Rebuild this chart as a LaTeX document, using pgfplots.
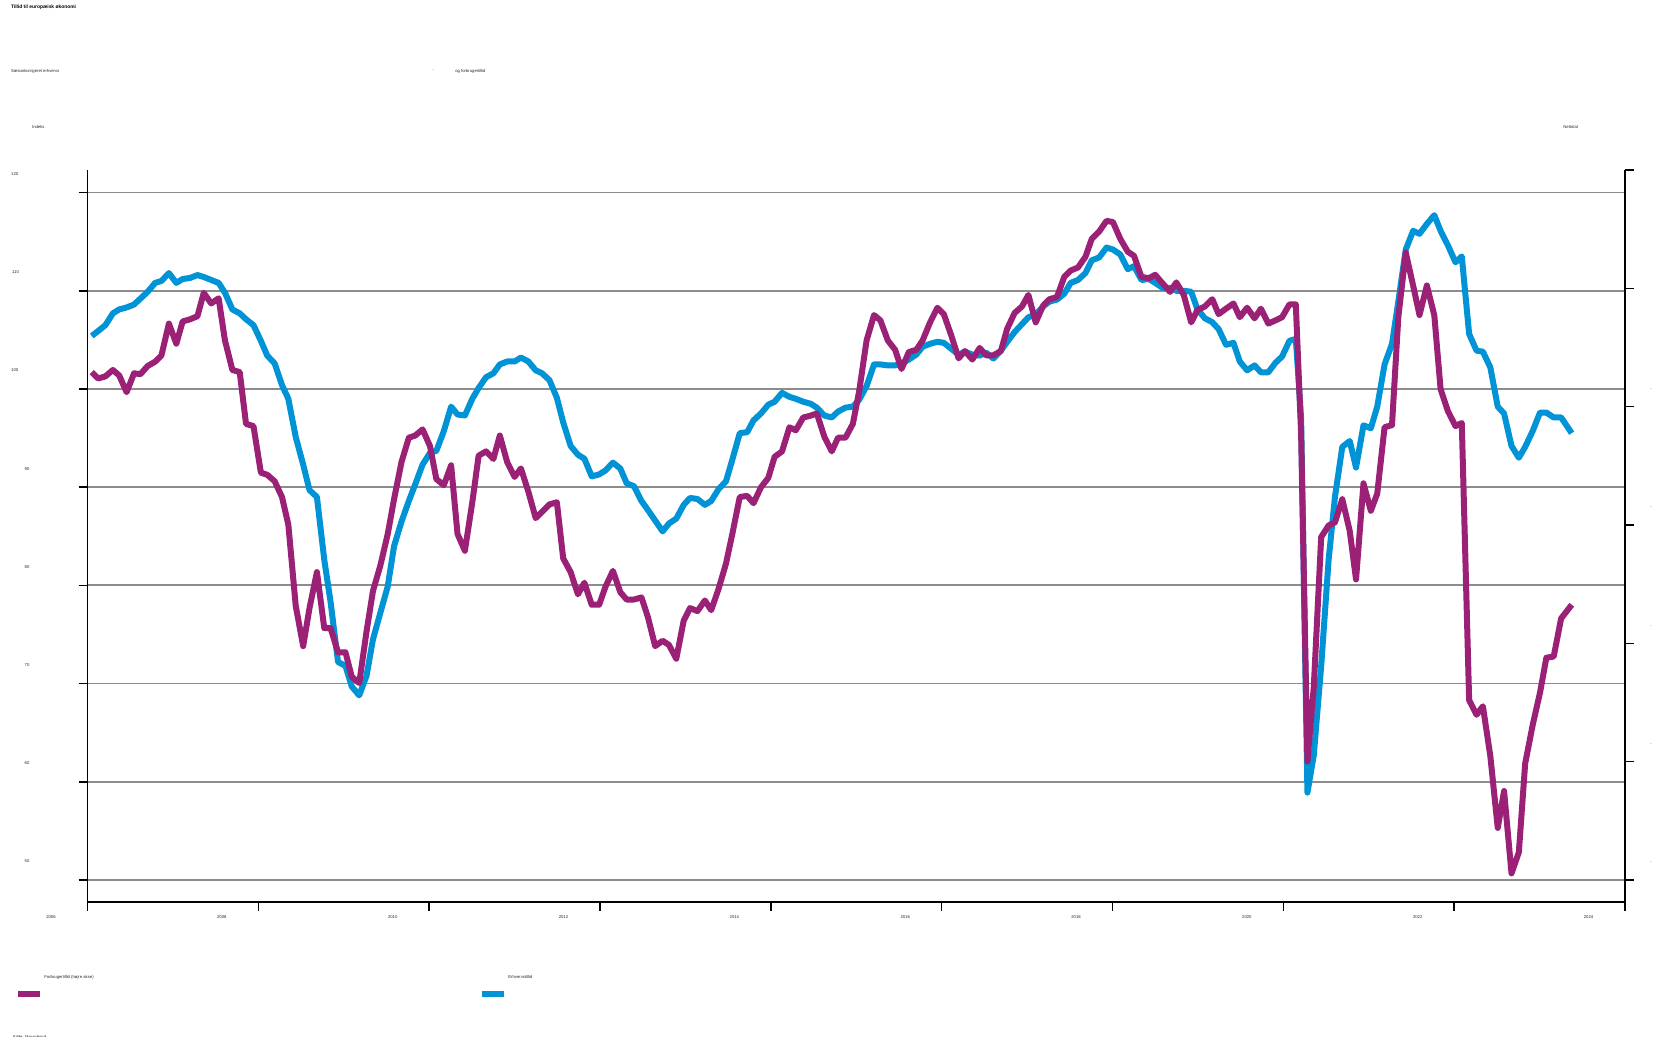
\documentclass[border=0pt]{standalone}
\usepackage{pgfplots}
\pgfplotsset{compat=1.18}
\usepackage{pgfplotstable}
\usepackage{fontspec}
\setmainfont{Liberation Sans}
\definecolor{fmag}{HTML}{9B2177}
\definecolor{eblue}{HTML}{0093D6}
\definecolor{gridg}{HTML}{8C8C8C}
\newcommand{\tinyf}{\fontsize{2.1pt}{2.5pt}\selectfont}
\newcommand{\rlab}[1]{\raisebox{8.1pt}[0pt][0pt]{-\hspace{5.3pt}#1}}

\pgfplotstableread{
t erh forb
2006.050 105.4 -8.54
2006.124 105.9 -8.81
2006.210 106.5 -8.72
2006.297 107.7 -8.45
2006.371 108.1 -8.68
2006.458 108.3 -9.39
2006.545 108.6 -8.59
2006.619 109.2 -8.63
2006.705 109.9 -8.28
2006.792 110.8 -8.10
2006.866 111.0 -7.83
2006.953 111.8 -6.49
2007.040 110.8 -7.34
2007.114 111.2 -6.40
2007.200 111.3 -6.31
2007.287 111.6 -6.18
2007.361 111.4 -5.19
2007.448 111.1 -5.64
2007.535 110.8 -5.42
2007.609 109.8 -7.20
2007.696 108.1 -8.45
2007.782 107.7 -8.54
2007.856 107.1 -10.73
2007.943 106.5 -10.82
2008.030 104.9 -12.79
2008.104 103.4 -12.88
2008.191 102.6 -13.15
2008.277 100.4 -13.82
2008.351 99.0 -14.98
2008.438 95.1 -18.42
2008.525 92.3 -20.12
2008.599 89.7 -18.51
2008.686 89.0 -16.99
2008.772 82.6 -19.36
2008.846 78.3 -19.36
2008.933 72.2 -20.38
2009.020 71.8 -20.38
2009.094 69.7 -21.41
2009.181 68.8 -21.68
2009.267 70.8 -19.49
2009.342 74.5 -17.79
2009.428 77.2 -16.72
2009.515 79.9 -15.38
2009.589 84.0 -13.91
2009.676 86.5 -12.34
2009.762 88.6 -11.31
2009.837 90.3 -11.22
2009.923 92.3 -10.96
2010.010 93.5 -11.67
2010.084 93.7 -13.06
2010.171 95.7 -13.32
2010.257 98.2 -12.48
2010.332 97.4 -15.38
2010.418 97.3 -16.09
2010.505 99.0 -14.04
2010.579 100.1 -12.07
2010.666 101.2 -11.89
2010.752 101.6 -12.21
2010.827 102.5 -11.22
2010.913 102.8 -12.34
2011.000 102.8 -12.97
2011.074 103.2 -12.61
2011.161 102.8 -13.59
2011.247 101.9 -14.71
2011.322 101.6 -14.44
2011.408 100.9 -14.13
2011.495 99.1 -14.04
2011.569 96.6 -16.41
2011.656 94.2 -16.99
2011.742 93.3 -17.93
2011.817 92.9 -17.44
2011.903 91.1 -18.37
2011.990 91.3 -18.37
2012.064 91.7 -17.61
2012.151 92.5 -16.94
2012.238 91.9 -17.84
2012.312 90.4 -18.15
2012.398 90.1 -18.15
2012.485 88.6 -18.06
2012.559 87.7 -18.87
2012.646 86.6 -20.12
2012.733 85.5 -19.89
2012.807 86.3 -20.07
2012.893 86.8 -20.65
2012.980 88.2 -19.04
2013.054 88.9 -18.51
2013.141 88.8 -18.64
2013.228 88.2 -18.19
2013.302 88.6 -18.60
2013.388 89.8 -17.70
2013.475 90.6 -16.63
2013.549 92.8 -15.38
2013.636 95.5 -13.82
2013.723 95.6 -13.77
2013.797 96.8 -14.08
2013.884 97.5 -13.41
2013.970 98.4 -13.01
2014.044 98.7 -12.12
2014.131 99.6 -11.89
2014.218 99.2 -10.87
2014.292 99.0 -11.00
2014.379 98.7 -10.46
2014.465 98.5 -10.38
2014.539 98.1 -10.29
2014.626 97.3 -11.27
2014.713 97.1 -11.89
2014.787 97.7 -11.31
2014.874 98.1 -11.31
2014.960 98.2 -10.73
2015.034 98.9 -9.35
2015.121 100.3 -7.20
2015.208 102.5 -6.13
2015.282 102.5 -6.35
2015.369 102.4 -7.20
2015.455 102.4 -7.60
2015.530 102.6 -8.41
2015.616 103.0 -7.69
2015.703 103.5 -7.60
2015.777 104.3 -7.20
2015.864 104.6 -6.44
2015.950 104.8 -5.82
2016.025 104.7 -6.09
2016.111 104.1 -6.98
2016.198 103.5 -7.96
2016.272 103.8 -7.65
2016.359 103.5 -8.01
2016.445 103.4 -7.52
2016.520 103.7 -7.83
2016.606 103.1 -7.83
2016.693 103.9 -7.65
2016.767 104.8 -6.71
2016.854 105.8 -6.04
2016.940 106.6 -5.77
2017.015 107.3 -5.28
2017.101 107.6 -6.44
2017.188 108.4 -5.73
2017.262 108.9 -5.46
2017.349 109.1 -5.37
2017.435 109.7 -4.52
2017.510 110.8 -4.25
2017.596 111.1 -4.12
2017.683 111.8 -3.67
2017.757 113.1 -2.91
2017.844 113.4 -2.60
2017.930 114.4 -2.15
2018.005 114.2 -2.20
2018.091 113.7 -2.91
2018.178 112.2 -3.45
2018.252 112.5 -3.63
2018.339 111.1 -4.52
2018.425 111.2 -4.57
2018.500 110.8 -4.43
2018.586 110.3 -4.79
2018.673 110.3 -5.15
2018.747 110.0 -4.75
2018.834 110.0 -5.28
2018.921 109.9 -6.44
2018.995 108.1 -5.91
2019.081 107.2 -5.77
2019.168 106.8 -5.46
2019.242 106.1 -6.09
2019.329 104.5 -5.86
2019.416 104.7 -5.64
2019.490 102.8 -6.22
2019.576 101.9 -5.82
2019.663 102.4 -6.27
2019.737 101.7 -5.86
2019.824 101.7 -6.49
2019.911 102.7 -6.35
2019.985 103.3 -6.22
2020.071 104.9 -5.68
2020.146 105.1 -5.68
2020.208 97.0 -11.14
2020.282 58.9 -24.99
2020.356 62.7 -21.86
2020.443 71.8 -15.51
2020.530 82.6 -15.02
2020.604 89.0 -14.89
2020.690 94.1 -13.91
2020.777 94.7 -15.25
2020.851 92.0 -17.30
2020.938 96.3 -13.24
2021.024 96.0 -14.40
2021.099 98.2 -13.68
2021.185 102.5 -10.87
2021.272 104.6 -10.78
2021.346 108.9 -6.22
2021.433 114.2 -3.49
2021.519 116.1 -4.88
2021.594 115.8 -6.13
2021.680 116.8 -4.88
2021.767 117.7 -6.13
2021.841 116.1 -9.26
2021.928 114.6 -10.20
2022.015 112.9 -10.82
2022.089 113.5 -10.69
2022.175 105.6 -22.40
2022.262 103.9 -23.02
2022.336 103.8 -22.66
2022.423 102.2 -24.76
2022.510 98.2 -27.80
2022.584 97.5 -26.24
2022.671 94.2 -29.72
2022.757 93.0 -28.83
2022.831 94.1 -25.08
2022.918 95.7 -23.47
2023.005 97.6 -22.08
2023.079 97.6 -20.61
2023.165 97.1 -20.56
2023.252 97.1 -18.95
2023.376 95.5 -18.37
}\data

\begin{document}
\begin{tikzpicture}
\useasboundingbox (0,0) rectangle (829pt,518.5pt);
\pgfplotsset{
  common/.style={
    at={(43.75pt,67.5pt)}, anchor=south west,
    scale only axis, width=768.75pt, height=366pt,
    xmin=2006, xmax=2024,
    tick align=outside, major tick length=4.5pt,
    tick style={black, line width=0.8pt},
    axis line style={black, line width=0.8pt},
    tick label style={font=\tinyf, text=black!85, inner sep=0pt},
  }
}
\begin{axis}[common,
  ymin=47.76, ymax=122.3,
  axis x line*=bottom, axis y line*=left,
  xtick={2006,2008,...,2024},
  xticklabels={2006,2008,2010,2012,2014,2016,2018,2020,2022,2024},
  xticklabel style={anchor=center, xshift=-18.25pt, yshift=-3pt},
  ytick={50,60,...,120},
  yticklabels={50,60,70,80,90,{\hspace*{-11pt}100},{\hspace*{-10.2pt}110},{\hspace*{-11pt}120}},
  yticklabel style={anchor=west, xshift=-27.1pt, yshift=9.25pt},
  ymajorgrids, grid style={gridg, line width=0.9pt},
]
\addplot[eblue, line width=3pt, line join=round] table[x=t,y=erh]{\data};
\end{axis}
\begin{axis}[common,
  ymin=-30.93, ymax=0,
  axis x line=none, axis y line*=right,
  ytick={-30,-25,...,0},
  yticklabels={{\rlab{30}},{\rlab{25}},{\rlab{20}},{\rlab{15}},{\rlab{10}},{},{}},
  yticklabel style={anchor=west, xshift=8pt},
  legend style={at={(-0.0452,-0.1007)}, anchor=north west, draw=none, fill=none,
    inner sep=0pt, outer sep=0pt, font=\tinyf, legend columns=2,
    column sep=0pt, row sep=0pt, nodes={inner sep=0pt, text=black!85}},
  legend cell align=left,
  legend image code/.code={\fill[#1, draw=none] (0pt,-9pt) rectangle (11pt,-6pt); \path[draw=none, fill=none] (0pt,0pt) -- (13.2pt,0pt);},
]
\addplot[fmag, line width=3pt, line join=round, forget plot] table[x=t,y=forb]{\data};
\addlegendimage{fmag}
\addlegendentry{\makebox[218.8pt][l]{Forbrugertillid (højre akse)}}
\addlegendimage{eblue}
\addlegendentry{Erhvervstillid}
\end{axis}
\begin{scope}[x=0.5pt,y=-0.5pt,shift={(0pt,518.5pt)}]
\node[anchor=west, inner sep=0pt, font=\fontsize{2.45pt}{3pt}\selectfont\bfseries] at (10.6,7.3) {Tillid til europæisk økonomi};
\node[anchor=west, inner sep=0pt, font=\tinyf, text=black!85] at (10.6,71) {Sæsonkorrigeret erhvervs};
\node[anchor=center, inner sep=0pt, font=\tinyf, text=black!85] at (433,71) {-};
\node[anchor=west, inner sep=0pt, font=\tinyf, text=black!85] at (455,71) {og forbrugertillid};
\node[anchor=west, inner sep=0pt, font=\tinyf, text=black!85] at (31.7,127) {Indeks};
\node[anchor=west, inner sep=0pt, font=\tinyf, text=black!85] at (1563,127) {Nettotal};
\node[anchor=west, inner sep=0pt, font=\tinyf, text=black!85] at (12.7,1037) {Kilde: Macrobond};
\end{scope}
\end{tikzpicture}
\end{document}
